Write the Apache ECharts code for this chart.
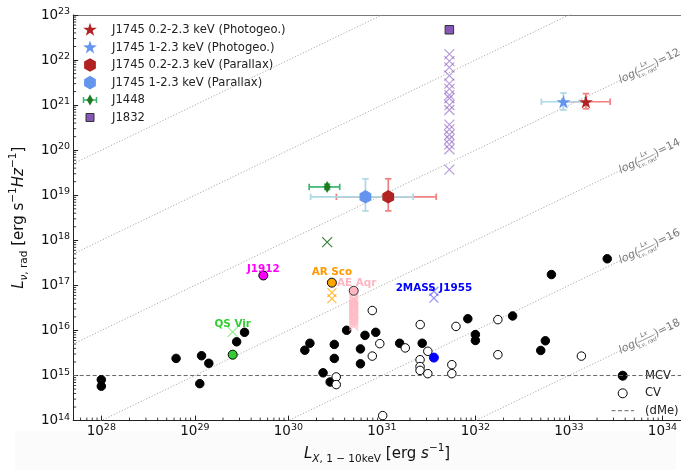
<!DOCTYPE html>
<html>
<head>
<meta charset="utf-8">
<script src="https://cdn.jsdelivr.net/npm/echarts@6/dist/echarts.min.js"></script>
<style>
  html, body { margin: 0; padding: 0; background: #fff; }
  #chart { width: 681px; height: 470px; }
</style>
</head>
<body>
<div id="chart"></div>
<script>
// Radio spectral luminosity vs 1-10 keV X-ray luminosity of accreting white dwarfs

const FF = 'DejaVu Sans';
const xRange = [5e27, 1.58e34];
const yRange = [1e14, 1e23];

// log(Lx / Lnu,rad) reference ratios drawn as dotted diagonals
const ratioLines = [8, 10, 12, 14, 16, 18];
const ratioLabelled = [12, 14, 16, 18];

// magnetic CVs [Lx, Lnu]
const mcvPoints = [
  [1.0e28, 8.1e14], [1.0e28, 5.8e14], [6.3e28, 2.4e15], [1.18e29, 2.75e15],
  [1.41e29, 1.87e15], [1.13e29, 6.6e14], [2.8e29, 5.6e15], [3.4e29, 9.1e15],
  [1.5e30, 3.65e15], [1.7e30, 5.2e15], [3.1e30, 4.9e15], [3.1e30, 2.4e15],
  [4.2e30, 1.01e16], [6.6e30, 7.8e15], [8.6e30, 9.1e15], [5.9e30, 3.9e15],
  [5.9e30, 1.82e15], [2.35e30, 1.15e15], [2.8e30, 7.2e14], [1.55e31, 5.2e15],
  [2.7e31, 5.2e15], [8.3e31, 1.82e16], [1.0e32, 8.1e15], [1.0e32, 6.0e15],
  [2.5e32, 2.1e16], [5.6e32, 5.9e15], [5.0e32, 3.6e15], [6.5e32, 1.74e17],
  [2.57e33, 3.9e17]
];

// non-magnetic CVs [Lx, Lnu]
const cvPoints = [
  [3.25e30, 9.3e14], [3.25e30, 6.3e14], [7.9e30, 2.77e16], [9.5e30, 5.1e15],
  [7.9e30, 2.7e15], [1.02e31, 1.29e14], [1.78e31, 4.1e15], [2.57e31, 1.35e16],
  [3.1e31, 3.45e15], [2.56e31, 2.24e15], [2.56e31, 1.58e15], [2.56e31, 1.3e15],
  [3.1e31, 1.1e15], [5.6e31, 1.74e15], [5.6e31, 1.1e15], [6.2e31, 1.23e16],
  [1.74e32, 1.74e16], [1.74e32, 2.9e15], [1.36e33, 2.7e15]
];

// dMe flare level
const dmeLevel = 1e15;

// named sources: detection [Lx, Lnu] and extra epochs at same Lx
const qsVir = [2.54e29, 2.9e15];
const qsVirEpochs = [9.3e15];
const j1912 = [5.4e29, 1.66e17];
const arSco = [2.92e30, 1.15e17];
const arScoEpochs = [6.9e16, 5.1e16];
const aeAqr = [5.0e30, 7.6e16];
const aeAqrEpochs = [5.2e16, 4.8e16, 4.4e16, 4.0e16, 3.7e16, 3.4e16, 3.1e16, 2.8e16,
                     2.5e16, 2.3e16, 2.1e16, 1.9e16, 1.7e16, 1.55e16, 1.4e16, 1.25e16];
const j1955 = [3.6e31, 2.5e15];
const j1955Epochs = [7.4e16, 5.2e16];

// J1448 [Lx, Lnu, LxLo, LxHi, LnuLo, LnuHi] and a second epoch
const j1448 = [2.6e30, 1.53e19, 1.67e30, 3.54e30, 1.35e19, 1.75e19];
const j1448Epoch = [2.6e30, 9.1e17];

// J1832 [Lx, Lnu] and its other epochs at the same Lx
const j1832 = [5.27e31, 4.7e22];
const j1832Epochs = [1.35e22, 9.5e21, 6.9e21, 4.5e21, 3.0e21, 2.3e21, 1.67e21, 1.42e21,
                     1.0e21, 7.8e20, 3.7e20, 2.9e20, 2.2e20, 1.75e20, 1.35e20, 1.05e20, 3.7e19];

// J1745 [Lx, Lnu, LxLo, LxHi, LnuLo, LnuHi]
const j1745SoftPhoto = [1.52e33, 1.19e21, 8.4e32, 2.76e33, 8.3e20, 1.8e21];
const j1745HardPhoto = [8.75e32, 1.19e21, 5.08e32, 1.5e33, 7.8e20, 1.86e21];
const j1745SoftPlx = [1.17e31, 9.25e18, 3.26e30, 3.81e31, 4.5e18, 2.32e19];
const j1745HardPlx = [6.67e30, 9.25e18, 1.73e30, 2.16e31, 4.5e18, 2.32e19];

// ---- marker shapes ----
function starPath() {
  let s = '';
  for (let i = 0; i < 10; i++) {
    const r = i % 2 === 0 ? 1 : 0.382;
    const a = -Math.PI / 2 + i * Math.PI / 5;
    s += (i ? 'L' : 'M') + (r * Math.cos(a)).toFixed(4) + ',' + (r * Math.sin(a)).toFixed(4);
  }
  return 'path://' + s + 'Z';
}
function hexPath() {
  let s = '';
  for (let i = 0; i < 6; i++) {
    const a = -Math.PI / 2 + i * Math.PI / 3;
    s += (i ? 'L' : 'M') + Math.cos(a).toFixed(4) + ',' + Math.sin(a).toFixed(4);
  }
  return 'path://' + s + 'Z';
}
const STAR = starPath();
const HEX = hexPath();
const XMARK = 'path://M0,0L1,1M1,0L0,1';
const THIN_DIAMOND = 'path://M0,-1L0.6,0L0,1L-0.6,0Z';

function starPoints(cx, cy, R) {
  const pts = [];
  for (let i = 0; i < 10; i++) {
    const r = i % 2 === 0 ? R : R * 0.382;
    const a = -Math.PI / 2 + i * Math.PI / 5;
    pts.push([cx + r * Math.cos(a), cy + r * Math.sin(a)]);
  }
  return pts;
}
function hexPoints(cx, cy, R) {
  const pts = [];
  for (let i = 0; i < 6; i++) {
    const a = -Math.PI / 2 + i * Math.PI / 3;
    pts.push([cx + R * Math.cos(a), cy + R * Math.sin(a)]);
  }
  return pts;
}

// ---- axis helpers ----
function powLabel(v) {
  const e = Math.log10(v);
  if (Math.abs(e - Math.round(e)) > 1e-6) return '';
  return '{b|10}{s|' + Math.round(e) + '}';
}
const tickRich = {
  b: { fontFamily: FF, fontSize: 13.5, color: '#111', lineHeight: 17 },
  s: { fontFamily: FF, fontSize: 9.5, color: '#111', lineHeight: 10, verticalAlign: 'top' }
};
const nameRich = {
  n: { fontFamily: FF, fontSize: 15, color: '#111', lineHeight: 22 },
  i: { fontFamily: FF, fontSize: 15, fontStyle: 'italic', color: '#111', lineHeight: 22 },
  sub: { fontFamily: FF, fontSize: 10.5, color: '#111', lineHeight: 13, verticalAlign: 'bottom' },
  subi: { fontFamily: FF, fontSize: 10.5, fontStyle: 'italic', color: '#111', lineHeight: 13, verticalAlign: 'bottom' },
  sup: { fontFamily: FF, fontSize: 10.5, color: '#111', lineHeight: 12, verticalAlign: 'top' }
};

const minorX = [];
const minorY = [];
for (let e = 27; e <= 34; e++) {
  for (let m = 2; m <= 9; m++) {
    const v = m * Math.pow(10, e);
    if (v > xRange[0] && v < xRange[1]) minorX.push([v, yRange[0]]);
  }
}
for (let e = 14; e < 23; e++) {
  for (let m = 2; m <= 9; m++) minorY.push([xRange[0], m * Math.pow(10, e)]);
}

function minorTickSeries(data, isX) {
  return {
    type: 'custom', data: data, silent: true, z: 3, clip: false,
    encode: { x: 0, y: 1 },
    renderItem: function (params, api) {
      const cs = params.coordSys;
      const p = api.coord([api.value(0), api.value(1)]);
      const st = { stroke: '#222', lineWidth: 0.9 };
      if (isX) {
        const yb = cs.y + cs.height;
        return { type: 'line', shape: { x1: p[0], y1: yb, x2: p[0], y2: yb - 3 }, style: st };
      }
      return { type: 'line', shape: { x1: cs.x, y1: p[1], x2: cs.x + 3, y2: p[1] }, style: st };
    }
  };
}

function errorBarSeries(name, rows, color) {
  return {
    type: 'custom', name: name, data: rows, silent: true, z: 4,
    encode: { x: 0, y: 1 },
    renderItem: function (params, api) {
      const x = api.value(0), y = api.value(1);
      const a = api.coord([api.value(2), y]);
      const b = api.coord([api.value(3), y]);
      const lo = api.coord([x, api.value(4)]);
      const hi = api.coord([x, api.value(5)]);
      const cap = 3.2;
      const st = { stroke: color, lineWidth: 1.7 };
      const L = (x1, y1, x2, y2) => ({ type: 'line', shape: { x1, y1, x2, y2 }, style: st });
      return {
        type: 'group', children: [
          L(a[0], a[1], b[0], b[1]),
          L(a[0], a[1] - cap, a[0], a[1] + cap),
          L(b[0], b[1] - cap, b[0], b[1] + cap),
          L(lo[0], lo[1], hi[0], hi[1]),
          L(lo[0] - cap, lo[1], lo[0] + cap, lo[1]),
          L(hi[0] - cap, hi[1], hi[0] + cap, hi[1])
        ]
      };
    }
  };
}

function crosses(name, lx, values, color, size, label) {
  const data = values.map(v => [lx, v]);
  if (label) data[0] = { value: data[0], label: label };
  return {
    type: 'scatter', name: name, z: 5,
    symbol: XMARK, symbolSize: size || 9,
    itemStyle: { color: 'transparent', borderColor: color, borderWidth: 1.2, opacity: 1 },
    data: data
  };
}

function dot(name, pt, fill, edge, size, label) {
  const item = { value: pt };
  if (label) item.label = label;
  return {
    type: 'scatter', name: name, z: 6,
    symbol: 'circle', symbolSize: size || 9,
    itemStyle: { color: fill, borderColor: edge, borderWidth: 1, opacity: 1 },
    data: [item]
  };
}

function srcLabel(text, color, distance, offset) {
  return {
    show: true, formatter: text, position: 'top', distance: distance, offset: offset || [0, 0],
    color: color, fontFamily: FF, fontWeight: 'bold', fontSize: 10.4
  };
}

const series = [];

// dotted iso-ratio diagonals
ratioLines.forEach(k => {
  const f = Math.pow(10, k);
  series.push({
    type: 'line', silent: true, z: 1, symbol: 'none', clip: true,
    lineStyle: { color: '#aaaaaa', width: 1, type: [1.2, 1.8] },
    data: [[xRange[0], xRange[0] / f], [xRange[1], xRange[1] / f]]
  });
});

// dMe level
series.push({
  type: 'line', name: '(dMe)', silent: true, z: 2, symbol: 'none',
  lineStyle: { color: '#666', width: 1, type: [4, 2.5] },
  data: [[xRange[0], dmeLevel], [xRange[1], dmeLevel]]
});

series.push(minorTickSeries(minorX, true));
series.push(minorTickSeries(minorY, false));

// populations
series.push({
  type: 'scatter', name: 'MCV', z: 5, symbol: 'circle', symbolSize: 8.5,
  itemStyle: { color: '#000', borderColor: '#000', borderWidth: 1, opacity: 1 },
  data: mcvPoints
});
series.push({
  type: 'scatter', name: 'CV', z: 5, symbol: 'circle', symbolSize: 8.5,
  itemStyle: { color: '#fff', borderColor: '#000', borderWidth: 1, opacity: 1 },
  data: cvPoints
});

// named sources
series.push(crosses('QS Vir epochs', qsVir[0], qsVirEpochs, '#90ee90', 10,
  srcLabel('QS Vir', '#33cc33', 3, [0, 6])));
series.push(dot('QS Vir', qsVir, '#33cc33', '#000', 9));
series.push(dot('J1912', j1912, '#ff00ff', '#000', 9, srcLabel('J1912', '#ff00ff', 1.5, [0, 5.5])));
series.push(crosses('AR Sco epochs', arSco[0], arScoEpochs, 'rgba(255,165,0,0.75)', 9));
series.push(dot('AR Sco', arSco, '#ffa500', '#000', 9, srcLabel('AR Sco', '#ff9900', 5.5, [0, 5])));
series.push(crosses('AE Aqr epochs', aeAqr[0], aeAqrEpochs, 'rgba(255,182,193,0.85)', 9));
series.push(dot('AE Aqr', aeAqr, '#ffb6c1', '#333', 9, srcLabel('AE Aqr', '#ffb6c1', 3.5, [3, 6])));
series.push(crosses('2MASS J1955 epochs', j1955[0], j1955Epochs, 'rgba(70,70,255,0.6)', 9,
  srcLabel('2MASS J1955', '#0000ff', 0, [0, 7])));
series.push(dot('2MASS J1955', j1955, '#0000ff', '#0000ff', 9));

// J1448
series.push(crosses('J1448 epoch', j1448Epoch[0], [j1448Epoch[1]], '#3d7f3d', 10));
series.push(errorBarSeries('J1448 err', [j1448], '#3cb371'));
series.push({
  type: 'scatter', name: 'J1448', z: 7, symbol: THIN_DIAMOND, symbolSize: [6.5, 11],
  itemStyle: { color: '#1f7a1f', borderColor: '#1f7a1f', borderWidth: 0.5, opacity: 1 },
  data: [j1448.slice(0, 2)]
});

// J1832
series.push(crosses('J1832 epochs', j1832[0], j1832Epochs, 'rgba(138,92,192,0.6)', 10));
series.push({
  type: 'scatter', name: 'J1832', z: 7, symbol: 'rect', symbolSize: 8.5,
  itemStyle: { color: '#8656b8', borderColor: '#333', borderWidth: 1, opacity: 1 },
  data: [j1832]
});

// J1745 error bars: red first, blue over it, then markers on top
series.push(errorBarSeries('J1745 soft photo err', [j1745SoftPhoto], '#f08080'));
series.push(errorBarSeries('J1745 soft plx err', [j1745SoftPlx], '#f08080'));
series.push(errorBarSeries('J1745 hard photo err', [j1745HardPhoto], '#add8e6'));
series.push(errorBarSeries('J1745 hard plx err', [j1745HardPlx], '#add8e6'));
series.push({
  type: 'scatter', name: 'J1745 1-2.3 keV (Photogeo.)', z: 8, symbol: STAR, symbolSize: [14, 13.3],
  itemStyle: { color: '#6495ed', opacity: 1 }, data: [j1745HardPhoto.slice(0, 2)]
});
series.push({
  type: 'scatter', name: 'J1745 0.2-2.3 keV (Photogeo.)', z: 8, symbol: STAR, symbolSize: [14, 13.3],
  itemStyle: { color: '#b22222', opacity: 1 }, data: [j1745SoftPhoto.slice(0, 2)]
});
series.push({
  type: 'scatter', name: 'J1745 1-2.3 keV (Parallax)', z: 8, symbol: HEX, symbolSize: [11.8, 13.6],
  itemStyle: { color: '#6495ed', opacity: 1 }, data: [j1745HardPlx.slice(0, 2)]
});
series.push({
  type: 'scatter', name: 'J1745 0.2-2.3 keV (Parallax)', z: 8, symbol: HEX, symbolSize: [11.8, 13.6],
  itemStyle: { color: '#b22222', opacity: 1 }, data: [j1745SoftPlx.slice(0, 2)]
});

const chart = echarts.init(document.getElementById('chart'), null, { renderer: 'canvas' });

const option = {
  animation: false,
  backgroundColor: '#ffffff',
  grid: { left: 68, top: 15, right: 0, bottom: 42, containLabel: false },
  xAxis: [{
    type: 'log', logBase: 10, min: xRange[0], max: xRange[1], position: 'bottom',
    axisLine: { show: true, lineStyle: { color: '#222', width: 1 } },
    axisTick: { show: true, inside: true, length: 5, lineStyle: { color: '#222', width: 1 } },
    axisLabel: { formatter: powLabel, rich: tickRich, margin: 2, showMinLabel: false, showMaxLabel: false },
    splitLine: { show: false },
    name: '{i|L}{subi|X}{sub|, 1 − 10keV}{n| [erg }{i|s}{sup|−1}{n|]}',
    nameLocation: 'middle', nameGap: 19,
    nameTextStyle: { rich: nameRich }
  }, {
    type: 'log', logBase: 10, min: xRange[0], max: xRange[1], position: 'top',
    axisLine: { show: true, lineStyle: { color: '#777', width: 1.2 } },
    axisTick: { show: false }, axisLabel: { show: false }, splitLine: { show: false }
  }],
  yAxis: {
    type: 'log', logBase: 10, min: yRange[0], max: yRange[1],
    axisLine: { show: true, lineStyle: { color: '#222', width: 1 } },
    axisTick: { show: true, inside: true, length: 5, lineStyle: { color: '#222', width: 1 } },
    axisLabel: { formatter: powLabel, rich: tickRich, margin: 3 },
    splitLine: { show: false },
    name: '{i|L}{subi|ν}{sub|, rad}{n| [erg s}{sup|−1}{i|Hz}{sup|−1}{n|]}',
    nameLocation: 'middle', nameRotate: 90, nameGap: 33,
    nameTextStyle: { rich: nameRich }
  },
  series: series
};
chart.setOption(option);

// ---- overlays: legends and ratio annotations ----
const p0 = chart.convertToPixel({ gridIndex: 0 }, [1e33, 1e21]);
const p1 = chart.convertToPixel({ gridIndex: 0 }, [1e34, 1e22]);
const ang = Math.atan2(p0[1] - p1[1], p1[0] - p0[0]);

function ratioLabel(k) {
  const lx = Math.pow(10, 33.86);
  const p = chart.convertToPixel({ gridIndex: 0 }, [lx, lx / Math.pow(10, k)]);
  const col = '#777';
  return {
    type: 'group', x: p[0], y: p[1], rotation: ang, z: 20,
    children: [
      { type: 'rect', shape: { x: -34, y: -9, width: 70, height: 18 }, style: { fill: '#fff' } },
      { type: 'text', x: -33, y: 0, style: { text: 'log(', fontFamily: FF, fontStyle: 'italic', fontSize: 11, fill: col, align: 'left', verticalAlign: 'middle' } },
      { type: 'text', x: -4, y: -4.5, style: { text: 'Lx', fontFamily: FF, fontStyle: 'italic', fontSize: 6.5, fill: col, align: 'center', verticalAlign: 'middle' } },
      { type: 'line', shape: { x1: -13, y1: 0.3, x2: 5, y2: 0.3 }, style: { stroke: col, lineWidth: 0.6 } },
      { type: 'text', x: -4, y: 4.8, style: { text: 'Lν, rad', fontFamily: FF, fontStyle: 'italic', fontSize: 5.8, fill: col, align: 'center', verticalAlign: 'middle' } },
      { type: 'text', x: 6, y: 0, style: { text: ')=' + k, fontFamily: FF, fontSize: 11, fill: col, align: 'left', verticalAlign: 'middle' } }
    ]
  };
}

const legendFont = { fontFamily: FF, fontSize: 11.6, fill: '#222', verticalAlign: 'middle', align: 'left' };
const lgX = 90, lgTextX = 112;
const lgY = [30, 47.6, 65, 82.6, 100, 117.5];
const legendNames = [
  'J1745 0.2-2.3 keV (Photogeo.)', 'J1745 1-2.3 keV (Photogeo.)',
  'J1745 0.2-2.3 keV (Parallax)', 'J1745 1-2.3 keV (Parallax)', 'J1448', 'J1832'
];

const graphics = [
  { type: 'rect', silent: true, z: -10, shape: { x: 15, y: 431, width: 661, height: 39 }, style: { fill: '#fbfbfb' } }
];
ratioLabelled.forEach(k => graphics.push(ratioLabel(k)));

const g = { type: 'group', z: 30, children: [] };
g.children.push({ type: 'polygon', shape: { points: starPoints(lgX, lgY[0], 7.2) }, style: { fill: '#b22222' } });
g.children.push({ type: 'polygon', shape: { points: starPoints(lgX, lgY[1], 7.2) }, style: { fill: '#6495ed' } });
g.children.push({ type: 'polygon', shape: { points: hexPoints(lgX, lgY[2], 6.8) }, style: { fill: '#b22222' } });
g.children.push({ type: 'polygon', shape: { points: hexPoints(lgX, lgY[3], 6.8) }, style: { fill: '#6495ed' } });
const gy = lgY[4];
[[83.5, gy, 96.5, gy], [83.5, gy - 3, 83.5, gy + 3], [96.5, gy - 3, 96.5, gy + 3], [lgX, gy - 4, lgX, gy + 4]].forEach(l => {
  g.children.push({ type: 'line', shape: { x1: l[0], y1: l[1], x2: l[2], y2: l[3] }, style: { stroke: '#3cb371', lineWidth: 1.5 } });
});
g.children.push({ type: 'polygon', shape: { points: [[lgX, gy - 5.5], [lgX + 3.2, gy], [lgX, gy + 5.5], [lgX - 3.2, gy]] }, style: { fill: '#1f7a1f' } });
g.children.push({ type: 'rect', shape: { x: lgX - 4, y: lgY[5] - 4, width: 8, height: 8 }, style: { fill: '#8656b8', stroke: '#333', lineWidth: 1 } });
legendNames.forEach((t, i) => {
  g.children.push({ type: 'text', x: lgTextX, y: lgY[i], style: Object.assign({ text: t }, legendFont) });
});

// population legend
const bx = 622.7, btx = 645;
g.children.push({ type: 'circle', shape: { cx: bx, cy: 375.7, r: 4.5 }, style: { fill: '#000', stroke: '#000', lineWidth: 1 } });
g.children.push({ type: 'circle', shape: { cx: bx, cy: 393.3, r: 4.5 }, style: { fill: '#fff', stroke: '#000', lineWidth: 1 } });
g.children.push({ type: 'line', shape: { x1: 611.5, y1: 410.7, x2: 634, y2: 410.7 }, style: { stroke: '#666', lineWidth: 1, lineDash: [4, 2.5] } });
[['MCV', 375.7], ['CV', 393.3], ['(dMe)', 410.7]].forEach(r => {
  g.children.push({ type: 'text', x: btx, y: r[1], style: Object.assign({ text: r[0] }, legendFont) });
});
graphics.push(g);

chart.setOption({ graphic: graphics });
</script>
</body>
</html>
